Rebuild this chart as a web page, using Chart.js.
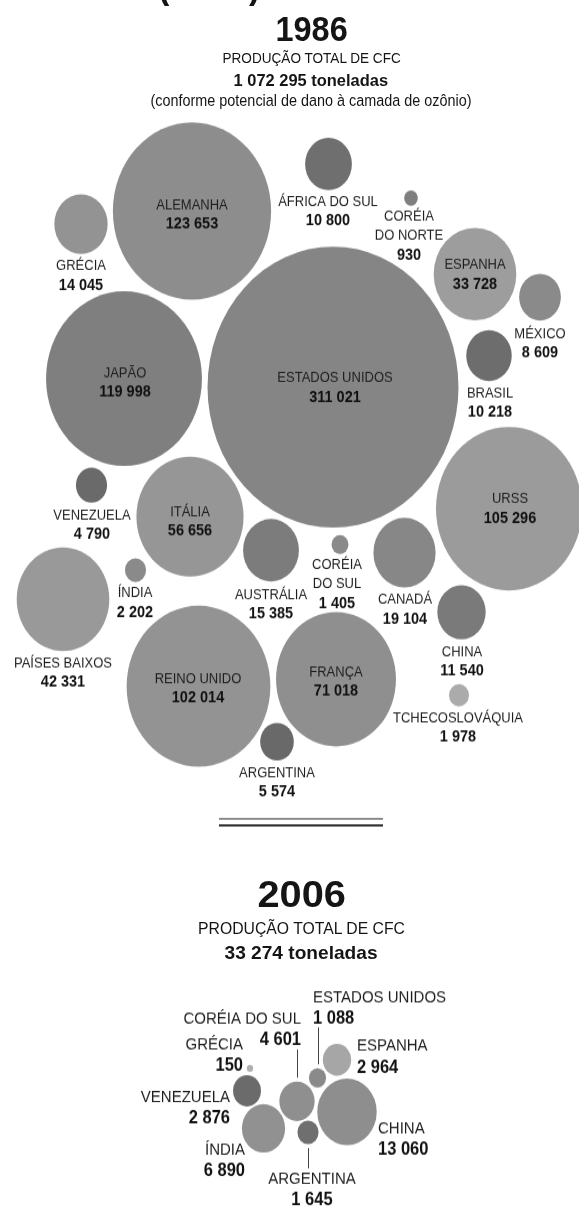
<!DOCTYPE html>
<html>
<head>
<meta charset="utf-8">
<script src="https://cdn.jsdelivr.net/npm/chart.js@4.4.1/dist/chart.umd.min.js"></script>
<style>
  body { margin: 0; background: #fff; }
  #outer { position: relative; width: 579px; height: 1207px; overflow: hidden; }
  #page {
    position: absolute; left: 0; top: 0; width: 579px; height: 1078px;
    transform: scaleY(1.12); transform-origin: 0 0;
    font-family: "Liberation Sans", Arial, sans-serif; color: #151515;
  }
  #page canvas { position: absolute; left: 0; top: 0; }
  .t { position: absolute; white-space: nowrap; line-height: 1; }
  .rule { position: absolute; left: 219px; width: 164px; }
</style>
</head>
<body>
<div id="outer">
<div id="page">
  <canvas id="c" width="579" height="1078"></canvas>
  <div class="rule" style="top:730px;height:2px;background:#8a8a8a"></div>
  <div class="rule" style="top:736px;height:2px;background:#333"></div>
</div>
</div>
<script>
// 1986 - CFC production by country (tonnes, ozone depletion weighted)
const names86 = ["ALEMANHA", "GRÉCIA", "ÁFRICA DO SUL", "CORÉIA\nDO NORTE", "ESPANHA", "MÉXICO",
  "BRASIL", "ESTADOS UNIDOS", "JAPÃO", "URSS", "VENEZUELA", "ITÁLIA", "AUSTRÁLIA",
  "CORÉIA\nDO SUL", "CANADÁ", "CHINA", "TCHECOSLOVÁQUIA", "ÍNDIA", "PAÍSES BAIXOS",
  "REINO UNIDO", "FRANÇA", "ARGENTINA"];
const cfc86 = [123653, 14045, 10800, 930, 33728, 8609, 10218, 311021, 119998, 105296,
  4790, 56656, 15385, 1405, 19104, 11540, 1978, 2202, 42331, 102014, 71018, 5574];
const total86 = "1 072 295";

// 2006
const names06 = ["ESTADOS UNIDOS", "CORÉIA DO SUL", "GRÉCIA", "ESPANHA", "VENEZUELA",
  "CHINA", "ÍNDIA", "ARGENTINA"];
const cfc06 = [1088, 4601, 150, 2964, 2876, 13060, 6890, 1645];
const total06 = "33 274";

// packing layout (grid units, x 0-579, y 0-1207 top down)
const posX86 = [192, 81, 328.5, 411, 475, 540, 489, 333, 124, 509, 91.5, 190, 271, 340,
  404.5, 461.5, 459, 135.5, 63, 198.5, 336, 277];
const posY86 = [211, 224, 164, 198, 274, 297, 355.5, 387, 378.5, 508.5, 485, 516.5, 550,
  544.5, 552.5, 612, 695, 570, 599, 686, 679, 741.5];
const labX86 = [192, 81, 328, 409, 475, 540, 490, 335, 125, 510, 92, 190, 271, 337, 405,
  462, 458, 135, 63, 198, 336, 277];
const labY86 = [205, 266, 202, 217, 265, 334, 393, 378, 373, 499, 515, 512, 595, 565, 600,
  652, 718, 593, 663, 679, 672, 773];

const posX06 = [317.5, 297, 250, 337, 247, 347, 263.5, 308];
const posY06 = [1077.5, 1101, 1068, 1059.5, 1090.5, 1111.5, 1128, 1132];
const labX06 = [313, 301, 243, 357, 230, 378, 245, 312];
const labY06 = [997, 1019, 1044, 1046, 1097, 1128, 1150, 1179];
const align06 = ["left", "right", "right", "left", "right", "left", "right", "center"];
const leader06 = [true, true, false, false, false, false, false, true];

const shade86 = ["#8d8d8d", "#939393", "#6f6f6f", "#7f7f7f", "#9d9d9d", "#8a8a8a", "#6d6d6d",
  "#858585", "#7f7f7f", "#9b9b9b", "#6a6a6a", "#969696", "#7c7c7c", "#8a8a8a", "#878787",
  "#7a7a7a", "#ababab", "#8a8a8a", "#999999", "#939393", "#8f8f8f", "#696969"];
const shade06 = ["#8a8a8a", "#8f8f8f", "#b0b0b0", "#a6a6a6", "#6b6b6b", "#8e8e8e", "#919191", "#6f6f6f"];

const S = 1.12; // vertical stretch of the page
const page = document.getElementById("page");
const FONT = '"Liberation Sans", Arial, sans-serif';

const fmt = (v) => String(v).replace(/\B(?=(\d{3})+(?!\d))/g, " ");

// titles (html text)
const titles = [
  { text: "1986", x: 311, y: 27, size: 32, bold: true, w: 72 },
  { text: "PRODUÇÃO TOTAL DE CFC", x: 311, y: 57, size: 13.5, w: 178 },
  { text: total86 + " toneladas", x: 311, y: 79, size: 15.5, bold: true, w: 155 },
  { text: "(conforme potencial de dano à camada de ozônio)", x: 311, y: 99, size: 14, w: 321 },
  { text: "2006", x: 301, y: 892, size: 33, bold: true, w: 88 },
  { text: "PRODUÇÃO TOTAL DE CFC", x: 301, y: 927, size: 15, w: 207 },
  { text: total06 + " toneladas", x: 301, y: 951, size: 16.5, bold: true, w: 153 },
];
titles.forEach((t) => {
  const el = document.createElement("div");
  el.className = "t";
  el.textContent = t.text;
  el.style.font = (t.bold ? "bold " : "") + t.size + "px " + FONT;
  page.appendChild(el);
  const w = el.offsetWidth;
  el.style.left = (t.x - w / 2) + "px";
  el.style.top = (t.y / S - 0.49 * t.size) + "px";
  el.style.transform = "scaleX(" + (t.w / w) + ")";
});
// cut-off bracket at the very top
[["(", 158], [")", 249]].forEach(([c, x]) => {
  const el = document.createElement("div");
  el.className = "t";
  el.textContent = c;
  el.style.font = "bold 34px " + FONT;
  el.style.left = x + "px";
  el.style.top = "-33px";
  page.appendChild(el);
});

const labelPlugin = {
  id: "bubbleLabels",
  afterDatasetsDraw(chart) {
    const ctx = chart.ctx;
    const ys = chart.scales.y, xs = chart.scales.x;
    chart.data.datasets.forEach((ds, di) => {
      const meta = chart.getDatasetMeta(di);
      ctx.save();
      ctx.textBaseline = "middle";
      ds.names.forEach((name, i) => {
        const lines = name.split("\n");
        lines.push(fmt(ds.values[i]));
        const x = xs.getPixelForValue(ds.labX[i]);
        ctx.textAlign = ds.align ? ds.align[i] : "center";
        lines.forEach((ln, j) => {
          const last = j === lines.length - 1;
          ctx.font = (last ? "bold " + ds.valueSize : ds.nameSize) + "px " + FONT;
          ctx.fillStyle = last ? "#111" : "#1e1e1e";
          ctx.fillText(ln, x, ys.getPixelForValue(ds.labY[i] + j * ds.step));
        });
        if (ds.leader && ds.leader[i]) {
          const el = meta.data[i];
          const r = el.options.radius;
          let y1, y2;
          if (ds.labY[i] < ds.data[i].y) {
            y1 = ys.getPixelForValue(ds.labY[i] + (lines.length - 1) * ds.step + 9);
            y2 = el.y - r - 3.5;
          } else {
            y1 = el.y + r + 3.5;
            y2 = ys.getPixelForValue(ds.labY[i] - 11);
          }
          ctx.strokeStyle = "#444";
          ctx.lineWidth = 1;
          ctx.beginPath();
          ctx.moveTo(Math.round(el.x) + 0.5, y1);
          ctx.lineTo(Math.round(el.x) + 0.5, y2);
          ctx.stroke();
        }
      });
      ctx.restore();
    });
  },
};

const K86 = 0.225, K06 = 0.26;

new Chart(document.getElementById("c"), {
  type: "bubble",
  data: {
    datasets: [
      {
        data: cfc86.map((v, i) => ({ x: posX86[i], y: posY86[i], r: K86 * Math.sqrt(v) })),
        backgroundColor: shade86, borderWidth: 0, clip: false,
        names: names86, values: cfc86, labX: labX86, labY: labY86,
        step: 19, nameSize: 13, valueSize: 14.5,
      },
      {
        data: cfc06.map((v, i) => ({ x: posX06[i], y: posY06[i], r: K06 * Math.sqrt(v) })),
        backgroundColor: shade06, borderWidth: 0, clip: false,
        names: names06, values: cfc06, labX: labX06, labY: labY06,
        align: align06, leader: leader06,
        step: 21, nameSize: 15, valueSize: 16.5,
      },
    ],
  },
  options: {
    responsive: false,
    animation: false,
    events: [],
    layout: { padding: 0, autoPadding: false },
    plugins: { legend: { display: false }, tooltip: { enabled: false } },
    scales: {
      x: { type: "linear", min: 0, max: 579, display: false },
      y: { type: "linear", min: 0, max: 1207, reverse: true, display: false },
    },
  },
  plugins: [labelPlugin],
});
</script>
</body>
</html>
